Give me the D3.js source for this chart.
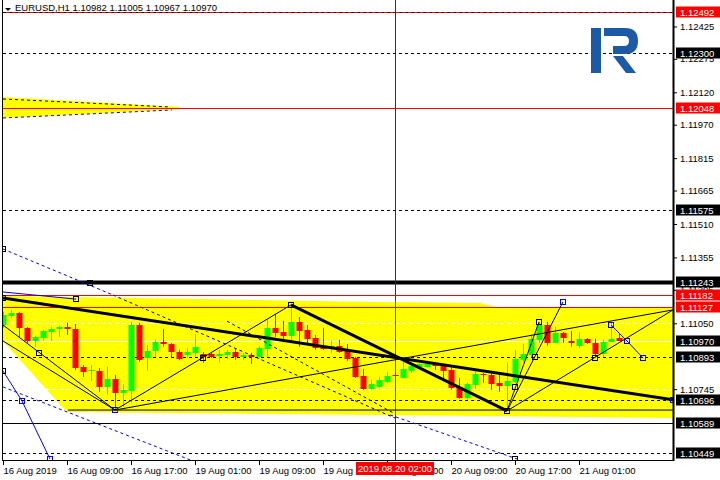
<!DOCTYPE html>
<html>
<head>
<meta charset="utf-8">
<script src="https://cdn.jsdelivr.net/npm/d3@7"></script>
<style>
body { margin: 0; background: #fff; }
text { font-family: "Liberation Sans", Arial, sans-serif; font-size: 9.5px; }
</style>
</head>
<body>
<script>
// EURUSD H1 candles, one per hour starting 16 Aug 2019 01:00
var openP = [1.11042, 1.11084, 1.11098, 1.11029, 1.10968, 1.10982, 1.11010, 1.11024, 1.11033, 1.11024,
  1.10848, 1.10830, 1.10830, 1.10756, 1.10793, 1.10728, 1.10737, 1.11042, 1.10890, 1.10922,
  1.10964, 1.10954, 1.10917, 1.10904, 1.10913, 1.10908, 1.10908, 1.10899, 1.10904, 1.10917,
  1.10894, 1.10904, 1.10894, 1.10931, 1.11029, 1.11010, 1.10992, 1.11056, 1.11019, 1.10982,
  1.10945, 1.10936, 1.10945, 1.10922, 1.10890, 1.10806, 1.10746, 1.10756, 1.10779, 1.10811,
  1.10797, 1.10830, 1.10848, 1.10848, 1.10860, 1.10857, 1.10834, 1.10756, 1.10705, 1.10765,
  1.10816, 1.10811, 1.10774, 1.10760, 1.10779, 1.10880, 1.10904, 1.10973, 1.11042, 1.10959,
  1.11005, 1.10968, 1.10945, 1.10978, 1.10959, 1.10908, 1.10964, 1.10982]
var highP = [1.11103, 1.11112, 1.11103, 1.11033, 1.10992, 1.11019, 1.11033, 1.11038, 1.11052, 1.11047,
  1.10857, 1.10857, 1.10843, 1.10848, 1.10811, 1.10769, 1.11056, 1.11052, 1.10950, 1.10973,
  1.11024, 1.10959, 1.10927, 1.10936, 1.11001, 1.10917, 1.10913, 1.10927, 1.10927, 1.10931,
  1.10913, 1.10913, 1.10945, 1.11066, 1.11093, 1.11061, 1.11120, 1.11079, 1.11042, 1.10996,
  1.11029, 1.10968, 1.10973, 1.10954, 1.10894, 1.10839, 1.10788, 1.10802, 1.10825, 1.10816,
  1.10871, 1.10867, 1.10867, 1.10876, 1.10867, 1.10862, 1.10853, 1.10797, 1.10774, 1.10834,
  1.10820, 1.10820, 1.10811, 1.10867, 1.10927, 1.10954, 1.10996, 1.11056, 1.11056, 1.11033,
  1.11010, 1.11015, 1.11010, 1.10982, 1.10978, 1.10973, 1.11052, 1.11005]
var lowP = [1.11029, 1.11075, 1.10987, 1.10954, 1.10941, 1.10968, 1.10968, 1.10987, 1.10996, 1.10834,
  1.10802, 1.10783, 1.10732, 1.10718, 1.10654, 1.10663, 1.10682, 1.10871, 1.10830, 1.10894,
  1.10941, 1.10890, 1.10880, 1.10890, 1.10894, 1.10867, 1.10890, 1.10867, 1.10885, 1.10880,
  1.10880, 1.10862, 1.10890, 1.10894, 1.10987, 1.10968, 1.10959, 1.10941, 1.10959, 1.10927,
  1.10927, 1.10913, 1.10913, 1.10876, 1.10797, 1.10742, 1.10742, 1.10751, 1.10774, 1.10797,
  1.10793, 1.10820, 1.10843, 1.10843, 1.10834, 1.10788, 1.10742, 1.10700, 1.10696, 1.10746,
  1.10774, 1.10742, 1.10732, 1.10649, 1.10774, 1.10871, 1.10894, 1.10959, 1.10945, 1.10959,
  1.10959, 1.10941, 1.10936, 1.10954, 1.10894, 1.10894, 1.10964, 1.10967]
var closeP = [1.11089, 1.11098, 1.11029, 1.10968, 1.10985, 1.11015, 1.11024, 1.11033, 1.11024, 1.10843,
  1.10825, 1.10834, 1.10756, 1.10793, 1.10728, 1.10742, 1.11042, 1.10880, 1.10922, 1.10964,
  1.10954, 1.10917, 1.10885, 1.10917, 1.10941, 1.10894, 1.10894, 1.10908, 1.10917, 1.10894,
  1.10904, 1.10894, 1.10936, 1.11029, 1.11005, 1.10992, 1.11056, 1.11015, 1.10978, 1.10936,
  1.10931, 1.10945, 1.10917, 1.10885, 1.10802, 1.10746, 1.10769, 1.10788, 1.10806, 1.10806,
  1.10839, 1.10853, 1.10862, 1.10862, 1.10853, 1.10830, 1.10751, 1.10705, 1.10769, 1.10816,
  1.10811, 1.10769, 1.10760, 1.10783, 1.10885, 1.10908, 1.10978, 1.11042, 1.10959, 1.11005,
  1.10982, 1.10959, 1.10978, 1.10959, 1.10908, 1.10964, 1.10978, 1.10970]

// time axis
var timeTickBars = [0, 8, 16, 24, 32, 40, 48, 56, 64, 72]
var timeTickLabels = ['16 Aug 2019', '16 Aug 09:00', '16 Aug 17:00', '19 Aug 01:00', '19 Aug 09:00',
  '19 Aug 17:00', '20 Aug 01:00', '20 Aug 09:00', '20 Aug 17:00', '21 Aug 01:00']
var cursorBar = 49
var cursorLabel = '2019.08.20 02:00'

// price axis
var priceTicks = [1.12425, 1.12275, 1.12120, 1.11970, 1.11815, 1.11665, 1.11510, 1.11355,
  1.11205, 1.11050, 1.10745]

// horizontal levels and their kind
var levelPrices = [1.12492, 1.12300, 1.12048, 1.11575, 1.11243, 1.11182, 1.11127, 1.10970, 1.10893, 1.10696, 1.10589, 1.10449]
var levelKinds = ['target', 'dash', 'target', 'dash', 'thick', 'target', 'target', 'bid', 'dash', 'dash', 'solid', 'dash']
var whiteLevels = [1.11050, 1.10745]

// drawings, as [bar, price] points
var zoneMain = [[0, 1.11176], [25, 1.11162], [47, 1.11149], [59.6, 1.11144], [62, 1.11121], [83.75, 1.11121],
  [83.75, 1.10611], [47, 1.10625], [8, 1.10639], [7.75, 1.10648], [0, 1.10968]]
var zoneTop = [[0, 1.12098], [22.1, 1.12052], [22.1, 1.12042], [0, 1.12001]]
var thickLines = [
  [[0, 1.11167], [83.75, 1.10696]],
  [[36, 1.11135], [63, 1.10644]]
]
var thinLines = [
  [[0, 1.11042], [14, 1.10648]],
  [[0, 1.10968], [14, 1.10648]],
  [[14, 1.10648], [36, 1.11135]],
  [[14, 1.10648], [83.75, 1.11112]],
  [[63, 1.10644], [67, 1.11056]],
  [[63, 1.10644], [70, 1.11149]],
  [[63, 1.10644], [83.75, 1.11112]],
  [[8.125, 1.10648], [83.75, 1.10648]]
]
var blueLines = [
  [[0, 1.10829], [2.375, 1.10690], [5.875, 1.10421]],
  [[0, 1.11195], [9.125, 1.11162]],
  [[76, 1.11042], [78, 1.10968], [80, 1.10889]]
]
var blueDashed = [
  [[0, 1.11394], [13.75, 1.11181]],
  [[0, 1.10755], [23.4, 1.10417]],
  [[48.4, 1.10625], [64.6, 1.10417]],
  [[0, 1.12001], [21.1, 1.12038]]
]
var blackDashed = [
  [[13.75, 1.11181], [49, 1.10611]],
  [[28, 1.11060], [49, 1.10630]],
  [[0, 1.12089], [20.9, 1.12052]]
]
var blackMarks = [[0, 1.11394], [10.9, 1.11237], [9.1, 1.11162], [0, 1.11167], [4.5, 1.10912], [25, 1.10889],
  [36, 1.11135], [67, 1.11056], [66.5, 1.10894], [64, 1.10755], [74, 1.10889], [0, 1.10829], [63, 1.10644], [64, 1.10421]]
var blueMarks = [[14, 1.10648], [2.375, 1.10690], [5.875, 1.10421], [70, 1.11149], [76, 1.11042], [78, 1.10968],
  [80, 1.10889], [83.75, 1.10696]]

var W = 720, H = 480
var left = 3, right = 673, bottom = 460

var x = d3.scaleLinear().domain([0, 83.75]).range([left, right])
var y = d3.scaleLinear().domain([1.10449, 1.12492]).range([453, 12])

var svg = d3.select('body').append('svg')
  .attr('width', W)
  .attr('height', H)

var plot = svg.append('g')
svg.append('defs').append('clipPath').attr('id', 'clip')
  .append('rect').attr('x', left).attr('y', 0).attr('width', right - left).attr('height', bottom)
plot.attr('clip-path', 'url(#clip)')

var line = d3.line().x(function (d) { return x(d[0]) }).y(function (d) { return y(d[1]) })

// zones
plot.append('path').attr('d', line(zoneMain) + 'Z').attr('fill', '#ffff00')
plot.append('path').attr('d', line(zoneTop) + 'Z').attr('fill', '#ffff00')

// white fib levels
whiteLevels.forEach(function (p) {
  plot.append('line').attr('x1', left).attr('x2', right).attr('y1', Math.round(y(p)) + 0.5).attr('y2', Math.round(y(p)) + 0.5)
    .attr('stroke', '#fff').attr('stroke-dasharray', '4,3')
})

// horizontal levels
levelPrices.forEach(function (p, i) {
  var k = levelKinds[i]
  var yy = Math.round(y(p)) + 0.5
  var l = plot.append('line').attr('x1', left).attr('x2', right).attr('y1', yy).attr('y2', yy)
  if (k === 'target') {
    l.attr('stroke', '#ff0000')
    if (i === 0) {
      plot.append('line').attr('x1', left).attr('x2', right).attr('y1', yy).attr('y2', yy)
        .attr('stroke', '#000').attr('stroke-dasharray', '3,3')
    }
  } else if (k === 'dash') {
    l.attr('stroke', '#000').attr('stroke-dasharray', '3,3')
  } else if (k === 'thick') {
    l.attr('stroke', '#000').attr('stroke-width', 4)
  } else if (k === 'bid') {
    l.attr('stroke', '#fff')
  } else {
    l.attr('stroke', '#000')
  }
})

// cursor line: dark over white, red over the yellow zone
var cxl = Math.round(x(cursorBar)) + 0.5
plot.append('line').attr('x1', cxl).attr('x2', cxl)
  .attr('y1', 0).attr('y2', bottom).attr('stroke', '#333')
plot.append('line').attr('x1', cxl).attr('x2', cxl)
  .attr('y1', y(1.11160)).attr('y2', y(1.10620)).attr('stroke', '#ff0000')

// candles
var candles = plot.append('g')
openP.forEach(function (o, i) {
  var c = closeP[i]
  var col = c >= o ? '#00ff00' : '#ff0000'
  var cx = Math.round(x(i)) + 0.5
  candles.append('line').attr('x1', cx).attr('x2', cx)
    .attr('y1', y(highP[i])).attr('y2', y(lowP[i])).attr('stroke', col)
  var top = Math.round(y(Math.max(o, c)))
  var bot = Math.round(y(Math.min(o, c)))
  candles.append('rect').attr('x', cx - 3).attr('width', 6)
    .attr('y', top).attr('height', Math.max(1, bot - top)).attr('fill', col)
})

// drawings
function drawLines (list, color, width, dash) {
  list.forEach(function (pts) {
    var p = plot.append('path').attr('d', line(pts)).attr('fill', 'none')
      .attr('stroke', color).attr('stroke-width', width)
    if (dash) p.attr('stroke-dasharray', dash)
  })
}
drawLines(blackDashed, '#000', 1, '3,3')
drawLines(blueDashed, '#0000ff', 1, '3,3')
drawLines(thinLines, '#000', 1)
drawLines(thickLines, '#000', 3)
drawLines(blueLines, '#0000ff', 1)

function drawMarks (list, color) {
  list.forEach(function (d) {
    plot.append('rect').attr('x', Math.round(x(d[0])) - 2.5).attr('y', Math.round(y(d[1])) - 2.5)
      .attr('width', 5).attr('height', 5).attr('fill', 'none').attr('stroke', color)
  })
}
drawMarks(blackMarks, '#000')
drawMarks(blueMarks, '#0000ff')

// logo
var logo = svg.append('g').attr('fill', '#1d5aa5')
logo.append('rect').attr('x', 591).attr('y', 28).attr('width', 10).attr('height', 45)
logo.append('path').attr('d', 'M604,28 H625 Q638,28 638,41 Q638,54 625,54 H613 V46 H624 Q629,46 629,41 Q629,36 624,36 H604 Z')
logo.append('path').attr('d', 'M613,56 H623 L636,73 H626 Z')

// frame
svg.append('line').attr('x1', left - 0.5).attr('x2', left - 0.5).attr('y1', 0).attr('y2', bottom + 1).attr('stroke', '#000')
svg.append('line').attr('x1', left - 1).attr('x2', right + 1).attr('y1', bottom + 0.5).attr('y2', bottom + 0.5).attr('stroke', '#000')
svg.append('line').attr('x1', right + 0.5).attr('x2', right + 0.5).attr('y1', 0).attr('y2', bottom + 1).attr('stroke', '#000').attr('stroke-width', 2)

// price axis
var yAxis = svg.append('g').attr('transform', 'translate(' + (right + 1) + ',0)')
  .call(d3.axisRight(y).tickValues(priceTicks).tickSize(3).tickPadding(3).tickFormat(d3.format('.5f')))
yAxis.select('.domain').remove()
yAxis.selectAll('text').attr('font-size', '9.5px').attr('fill', '#000')

// price level labels
levelPrices.forEach(function (p, i) {
  var k = levelKinds[i]
  var yy = Math.round(y(p))
  var g = svg.append('g')
  g.append('rect').attr('x', 676).attr('y', yy - 5.5).attr('width', 44).attr('height', 11)
    .attr('fill', k === 'target' ? '#ff0000' : '#000')
  g.append('text').attr('x', 680).attr('y', yy + 3.5).attr('fill', '#fff').text(d3.format('.5f')(p))
})

// time axis
var xAxis = svg.append('g').attr('transform', 'translate(0,' + (bottom + 1) + ')')
  .call(d3.axisBottom(x).tickValues(timeTickBars).tickSize(4).tickPadding(3)
    .tickFormat(function (d, i) { return timeTickLabels[i] }))
xAxis.select('.domain').remove()
xAxis.selectAll('text').attr('text-anchor', 'start').attr('fill', '#000').attr('dy', '0.6em')
// the cursor label covers the 20 Aug 01:00 tick label
xAxis.selectAll('.tick').filter(function (d) { return d === 48 }).select('text').attr('dx', 0)

var cx0 = x(cursorBar)
svg.append('rect').attr('x', cx0 - 39).attr('y', 462).attr('width', 78).attr('height', 13).attr('fill', '#ff0000')
svg.append('text').attr('x', cx0).attr('y', 472).attr('text-anchor', 'middle').attr('fill', '#fff').text(cursorLabel)

// title
svg.append('path').attr('d', 'M5,8 L11,8 L8,11 Z').attr('fill', '#000')
svg.append('text').attr('x', 15).attr('y', 11).attr('fill', '#000')
  .text('EURUSD,H1  1.10982 1.11005 1.10967 1.10970')
</script>
</body>
</html>
